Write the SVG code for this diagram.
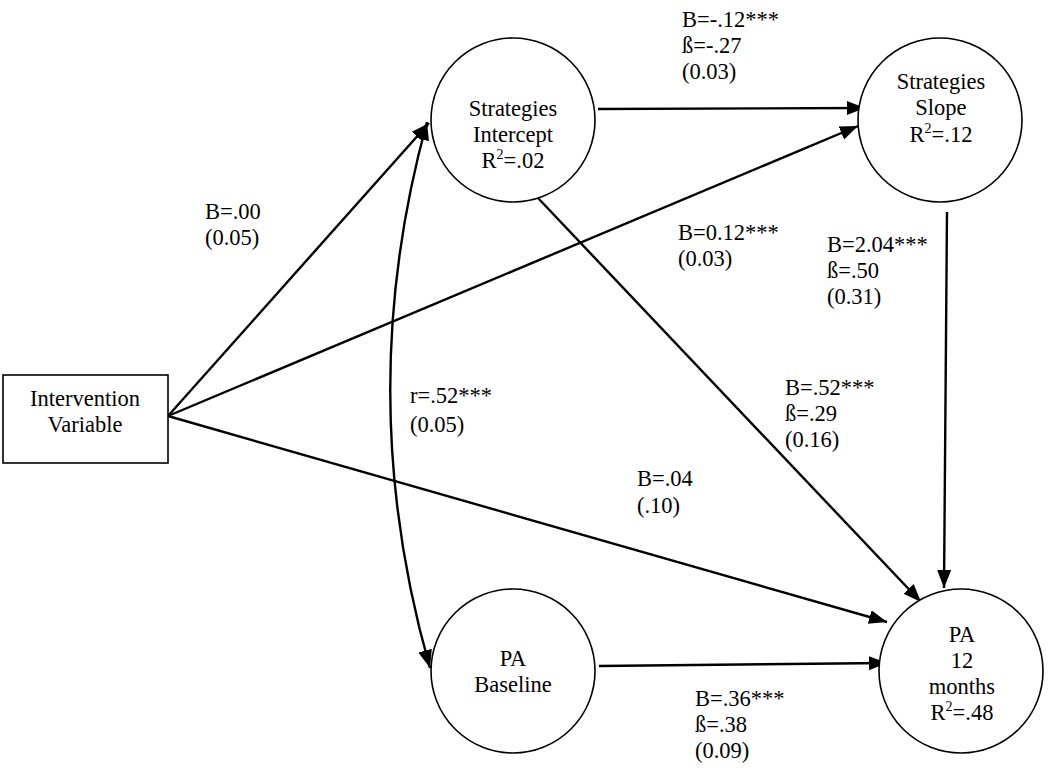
<svg xmlns="http://www.w3.org/2000/svg" width="1050" height="770" viewBox="0 0 1050 770">
<style>
text{font-family:"Liberation Serif","Times New Roman",serif;font-size:22.5px;fill:#000}
.n text{text-anchor:middle}
.shape{fill:#fff;stroke:#000;stroke-width:1.6}
.c{fill:none;stroke:#000;stroke-width:2.4}
.sup{font-size:14px}
</style>
<defs>
<marker id="ah" markerUnits="userSpaceOnUse" markerWidth="20" markerHeight="16" refX="18" refY="7" orient="auto-start-reverse">
<path d="M0,0 L18,7 L0,14 z" fill="#000"/>
</marker>
</defs>
<rect width="1050" height="770" fill="#fff"/>
<g id="connectors">
<line class="c" x1="168" y1="416" x2="429" y2="123" marker-end="url(#ah)"/>
<line class="c" x1="168" y1="416" x2="858" y2="126" marker-end="url(#ah)"/>
<line class="c" x1="168" y1="416" x2="887" y2="622" marker-end="url(#ah)"/>
<line class="c" x1="598" y1="109" x2="865" y2="108" marker-end="url(#ah)"/>
<line class="c" x1="538" y1="198" x2="921" y2="602" marker-end="url(#ah)"/>
<line class="c" x1="947" y1="212" x2="944" y2="588" marker-end="url(#ah)"/>
<line class="c" x1="599" y1="666" x2="887" y2="663" marker-end="url(#ah)"/>
<path class="c" d="M427,122 Q352,395 430,668" marker-start="url(#ah)" marker-end="url(#ah)"/>
</g>
<g id="intervention" class="n">
<rect class="shape" x="3" y="375" width="165" height="88"/>
<text x="85" y="406">Intervention</text>
<text x="85" y="432">Variable</text>
</g>
<g id="strategies-intercept" class="n">
<circle class="shape" cx="513" cy="120" r="82"/>
<text x="513" y="116">Strategies</text>
<text x="513" y="142">Intercept</text>
<text x="513" y="168">R<tspan class="sup" dy="-9">2</tspan><tspan dy="9">=.02</tspan></text>
</g>
<g id="strategies-slope" class="n">
<circle class="shape" cx="940" cy="120" r="82"/>
<text x="941" y="89">Strategies</text>
<text x="941" y="115">Slope</text>
<text x="941" y="142">R<tspan class="sup" dy="-9">2</tspan><tspan dy="9">=.12</tspan></text>
</g>
<g id="pa-baseline" class="n">
<circle class="shape" cx="513" cy="671" r="82"/>
<text x="513" y="666">PA</text>
<text x="513" y="692">Baseline</text>
</g>
<g id="pa-12-months" class="n">
<circle class="shape" cx="961" cy="671" r="82"/>
<text x="962" y="642">PA</text>
<text x="962" y="668">12</text>
<text x="962" y="694">months</text>
<text x="962" y="720">R<tspan class="sup" dy="-9">2</tspan><tspan dy="9">=.48</tspan></text>
</g>
<g id="labels">
<text x="682" y="27">B=-.12***</text>
<text x="682" y="53">ß=-.27</text>
<text x="682" y="79">(0.03)</text>
<text x="205" y="219">B=.00</text>
<text x="205" y="245">(0.05)</text>
<text x="678" y="240">B=0.12***</text>
<text x="678" y="266">(0.03)</text>
<text x="827" y="252">B=2.04***</text>
<text x="827" y="278">ß=.50</text>
<text x="827" y="304">(0.31)</text>
<text x="785" y="395">B=.52***</text>
<text x="785" y="421">ß=.29</text>
<text x="785" y="447">(0.16)</text>
<text x="410" y="403">r=.52***</text>
<text x="410" y="432">(0.05)</text>
<text x="637" y="486">B=.04</text>
<text x="637" y="513">(.10)</text>
<text x="695" y="706">B=.36***</text>
<text x="695" y="732">ß=.38</text>
<text x="695" y="758">(0.09)</text>
</g>
</svg>
